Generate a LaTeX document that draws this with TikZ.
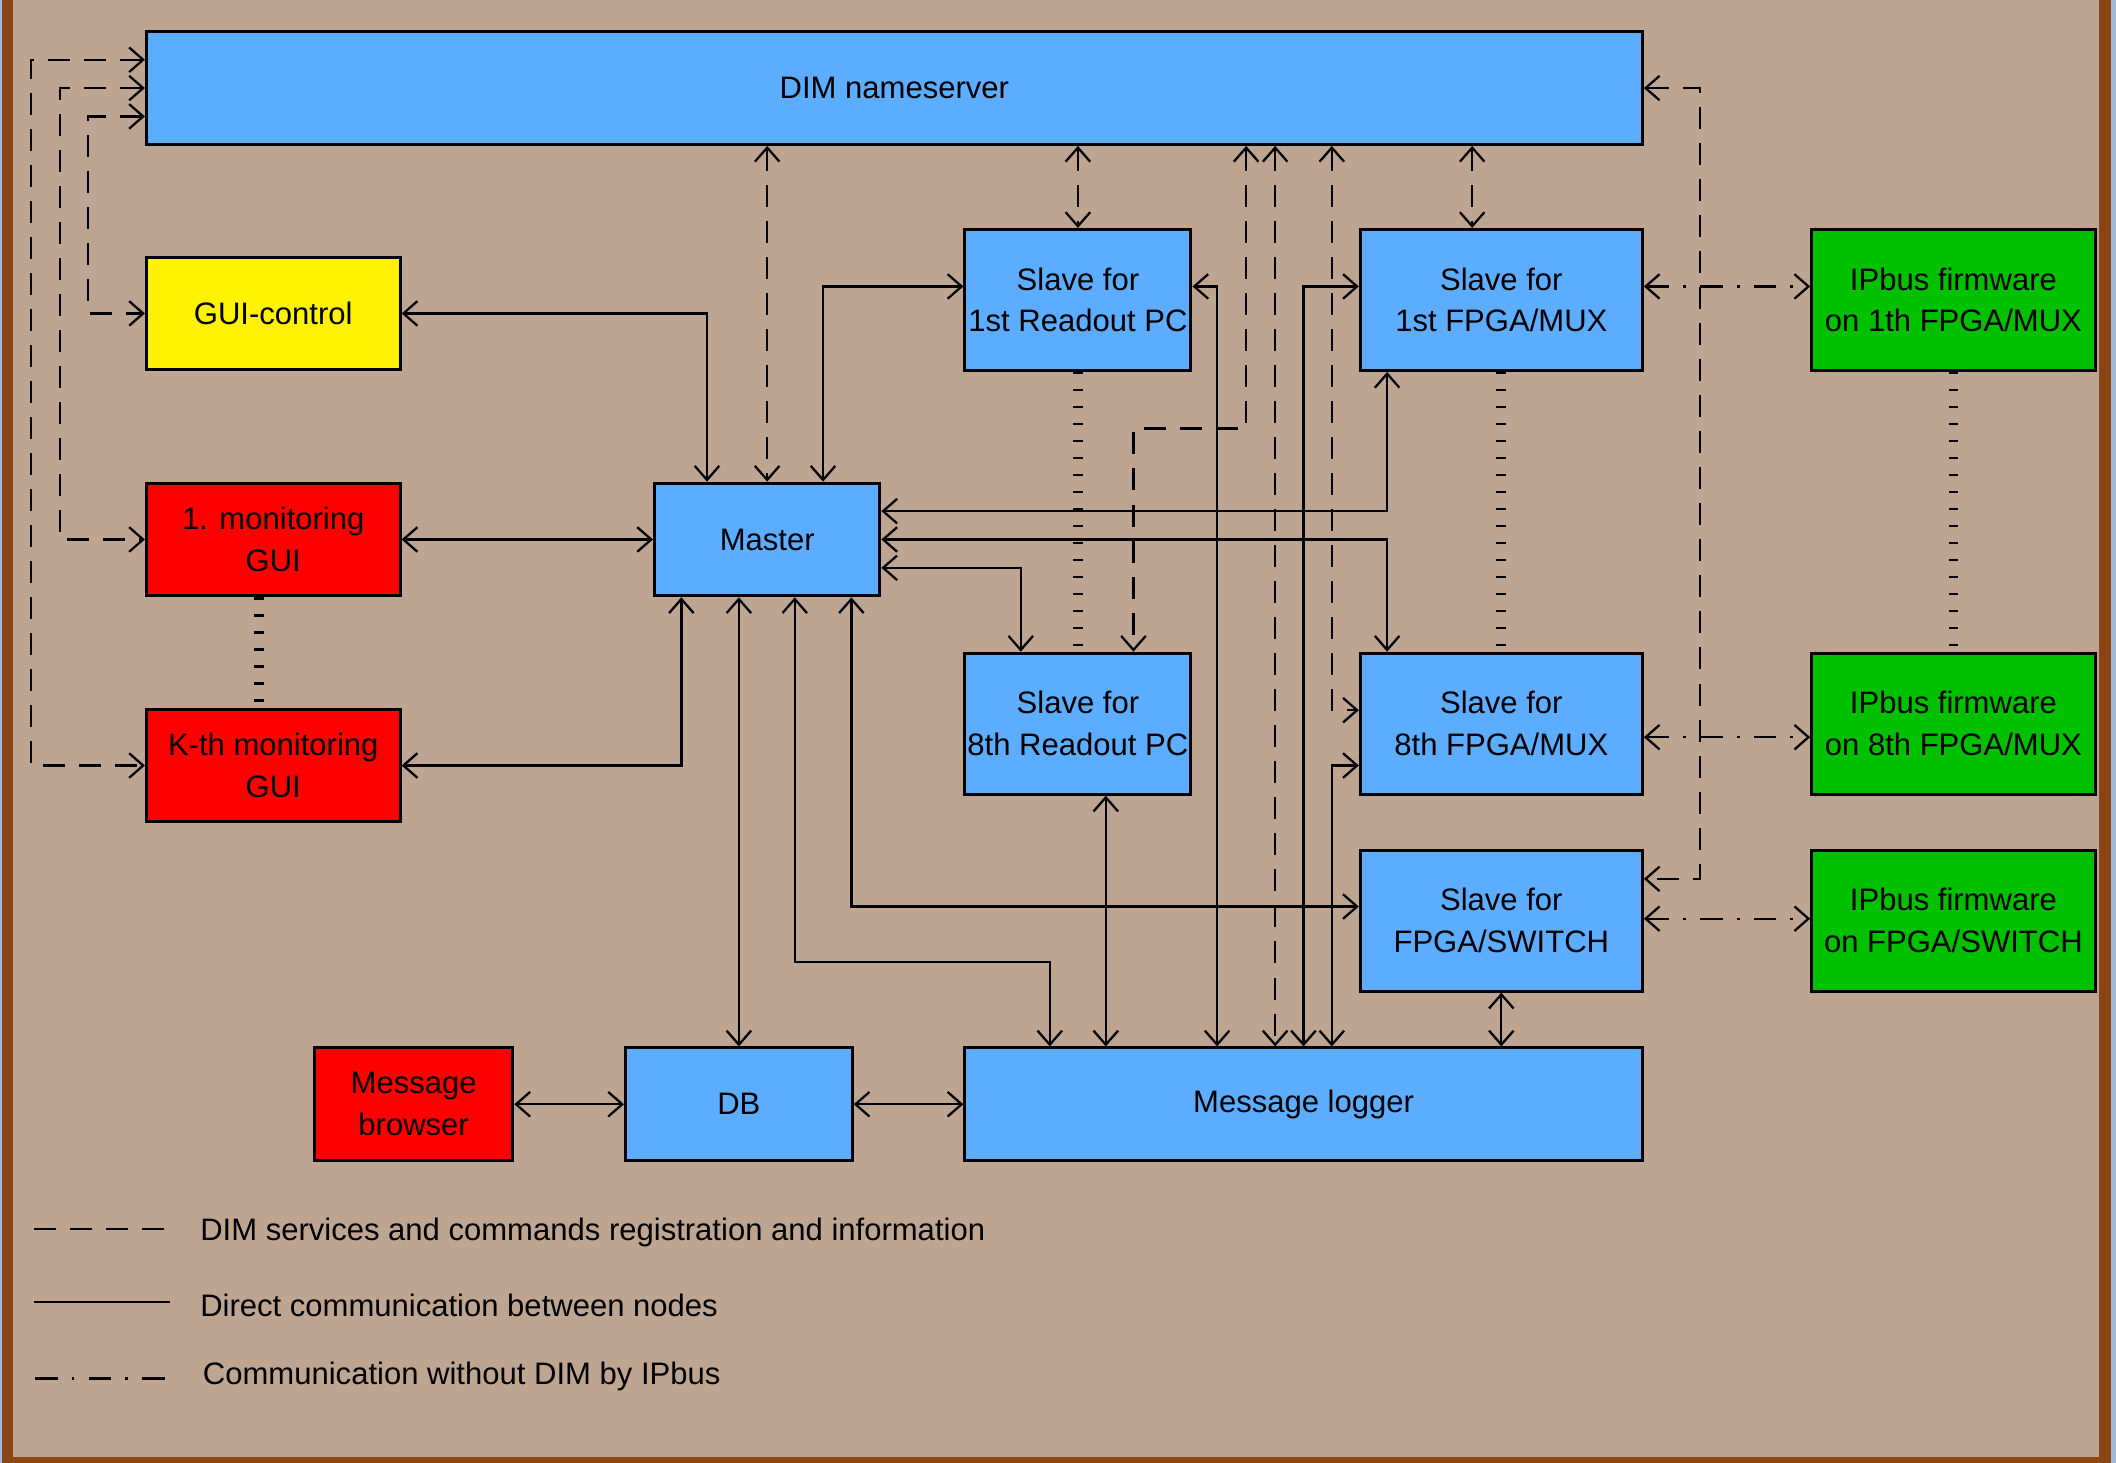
\documentclass[tikz,border=0pt]{standalone}
\usepackage{fontspec}
\setmainfont{Liberation Sans}
\usetikzlibrary{arrows.meta,calc}
\definecolor{bgtan}{RGB}{190,165,146}
\definecolor{frameb}{RGB}{139,69,19}
\definecolor{boxblue}{RGB}{92,172,255}
\definecolor{boxgreen}{RGB}{0,192,0}
\definecolor{edgeblue}{RGB}{160,185,215}
\tikzset{
  >={Straight Barb[length=5.2pt,width=9.1pt]},
  box/.style={draw=black, line width=1.1pt, inner sep=0pt, align=center,
    font=\fontsize{11.5}{15.5}\selectfont, minimum height=41.75pt},
  tall/.style={minimum height=52.25pt},
  bluebox/.style={box, fill=boxblue},
  greenbox/.style={box, fill=boxgreen},
  redbox/.style={box, fill=red},
  yellowbox/.style={box, fill=yellow},
  link/.style={draw=black, line width=0.85pt, <->},
  dimlink/.style={link, dash pattern=on 8.15pt off 5.2pt},
  iplink/.style={link, dash pattern=on 8.4pt off 5.2pt on 1pt off 5.2pt},
  dotlink/.style={draw=black, line width=3.6pt, dash pattern=on 0.85pt off 5.45pt},
  legline/.style={draw=black, line width=0.85pt},
  legtext/.style={inner sep=0pt, anchor=west, font=\fontsize{11.5}{15.5}\selectfont},
}
\begin{document}
\begin{tikzpicture}[x=0.5pt,y=-0.5pt]
\useasboundingbox (0,0) rectangle (1568,1084);
% background and frame
\fill[bgtan] (0,0) rectangle (1568,1084);
\fill[edgeblue] (0,0) rectangle (1.5,1084);
\fill[frameb] (1.5,0) rectangle (9.6,1084);
\fill[frameb] (1555.4,0) rectangle (1564.3,1084);
\fill[edgeblue] (1564.3,0) rectangle (1568,1084);
\fill[frameb] (1.5,1079.7) rectangle (1564.3,1084);

% nodes
\node[bluebox, minimum width=554.25pt] (ns) at (662.75,65.25) {DIM nameserver};
\node[yellowbox, minimum width=94pt] (gui) at (202.5,232.25) {GUI-control};
\node[redbox, minimum width=94pt] (mon1) at (202.5,399.75) {1. monitoring\\GUI};
\node[redbox, minimum width=94pt] (monk) at (202.5,567.25) {K-th monitoring\\GUI};
\node[bluebox, minimum width=83.5pt] (master) at (568.5,399.75) {Master};
\node[bluebox, tall, minimum width=83.75pt] (r1) at (798.75,222.25) {Slave for\\1st Readout PC};
\node[bluebox, tall, minimum width=104.5pt] (f1) at (1112.5,222.25) {Slave for\\1st FPGA/MUX};
\node[greenbox, tall, minimum width=105pt] (ip1) at (1447.5,222.25) {IPbus firmware\\on 1th FPGA/MUX};
\node[bluebox, tall, minimum width=83.75pt] (r8) at (798.75,536.25) {Slave for\\8th Readout PC};
\node[bluebox, tall, minimum width=104.5pt] (f8) at (1112.5,536.25) {Slave for\\8th FPGA/MUX};
\node[greenbox, tall, minimum width=105pt] (ip8) at (1447.5,536.25) {IPbus firmware\\on 8th FPGA/MUX};
\node[bluebox, tall, minimum width=104.5pt] (sw) at (1112.5,682.25) {Slave for\\FPGA/SWITCH};
\node[greenbox, tall, minimum width=105pt] (ipsw) at (1447.5,682.25) {IPbus firmware\\on FPGA/SWITCH};
\node[redbox, minimum width=73.5pt] (mb) at (306.5,818.25) {Message\\browser};
\node[bluebox, minimum width=84pt] (db) at (547.5,818.25) {DB};
\node[bluebox, minimum width=251pt] (ml) at (966,818.25) {Message logger};

% direct communication
\draw[link] (gui.east) -| ($(master.north west)+(40,0)$);
\draw[link] (mon1.east) -- (master.west);
\draw[link] (monk.east) -| ($(master.south west)+(21,0)$);
\draw[link] ($(master.north west)+(126,0)$) |- ($(r1.west)+(0,-10)$);
\draw[link] ($(r1.east)+(0,-10)$) -| ($(ml.north west)+(188,0)$);
\draw[link] ($(f1.west)+(0,-10)$) -| ($(ml.north west)+(252,0)$);
\draw[link] ($(master.east)+(0,-21)$) -| ($(f1.south west)+(21,0)$);
\draw[link] (master.east) -| ($(f8.north west)+(21,0)$);
\draw[link] ($(master.east)+(0,21)$) -| ($(r8.north west)+(42.5,0)$);
\draw[link] (master.south -| db.north) -- (db.north);
\draw[link] ($(master.south west)+(105,0)$) |- ($(ml.north west)+(64,-62.5)$) -- ($(ml.north west)+(64,0)$);
\draw[link] ($(master.south west)+(147,0)$) |- ($(sw.west)+(0,-10.5)$);
\draw[link] ($(r8.south west)+(105.5,0)$) -- ($(ml.north west)+(105.5,0)$);
\draw[link] (sw.south) -- (ml.north -| sw.south);
\draw[link] ($(ml.north west)+(273,0)$) |- ($(f8.west)+(0,31)$);
\draw[link] (mb.east) -- (db.west);
\draw[link] (db.east) -- (ml.west);

% DIM registration
\draw[dimlink] ($(ns.west)+(0,-21)$) -- ++(-84.5,0) |- (monk.west);
\draw[dimlink] (ns.west) -- ++(-63,0) |- (mon1.west);
\draw[dimlink] ($(ns.west)+(0,21)$) -- ++(-42,0) |- (gui.west);
\draw[dimlink] (ns.south -| master.north) -- (master.north);
\draw[dimlink] (ns.south -| r1.north) -- (r1.north);
\draw[dimlink] ($(ns.south west)+(983.5,0)$) -- ($(f1.north west)+(84,0)$);
\draw[dimlink] ($(ns.south west)+(816,0)$) -- ++(0,209.5) -| ($(r8.north west)+(126,0)$);
\draw[dimlink] ($(ns.south west)+(837.5,0)$) -- ($(ml.north west)+(231,0)$);
\draw[dimlink] ($(ns.south west)+(879.5,0)$) |- ($(f8.west)+(0,-10)$);
\draw[dimlink] (ns.east) -- ++(41.5,0) |- ($(sw.east)+(0,-31)$);

% IPbus
\draw[iplink] ($(f1.east)+(0,-10)$) -- ($(ip1.west)+(0,-10)$);
\draw[iplink] ($(f8.east)+(0,10)$) -- ($(ip8.west)+(0,10)$);
\draw[iplink] ($(sw.east)+(0,-1.5)$) -- ($(ipsw.west)+(0,-1.5)$);

% dotted continuations
\draw[dotlink] (r1.south) -- (r8.north);
\draw[dotlink] (f1.south) -- (f8.north);
\draw[dotlink] (ip1.south) -- (ip8.north);
\draw[dotlink] ($(mon1.south)+(-10.5,0)$) -- ($(monk.north)+(-10.5,0)$);

% legend
\coordinate (lgA1) at (25,910.5);
\coordinate (lgA2) at (124,910.5);
\coordinate (lgB1) at (25,964.8);
\coordinate (lgB2) at (126,964.8);
\coordinate (lgC1) at (26,1021.4);
\coordinate (lgC2) at (123,1021.4);
\draw[legline, dash pattern=on 8.15pt off 5.2pt] (lgA1) -- (lgA2);
\draw[legline] (lgB1) -- (lgB2);
\draw[legline, dash pattern=on 8.4pt off 5.2pt on 1pt off 5.2pt] (lgC1) -- (lgC2);
\node[legtext] (lgAt) at (148,913) {DIM services and commands registration and information};
\node[legtext] (lgBt) at (148,967) {Direct communication between nodes};
\node[legtext] (lgCt) at (150,1020) {Communication without DIM by IPbus};
\end{tikzpicture}
\end{document}
